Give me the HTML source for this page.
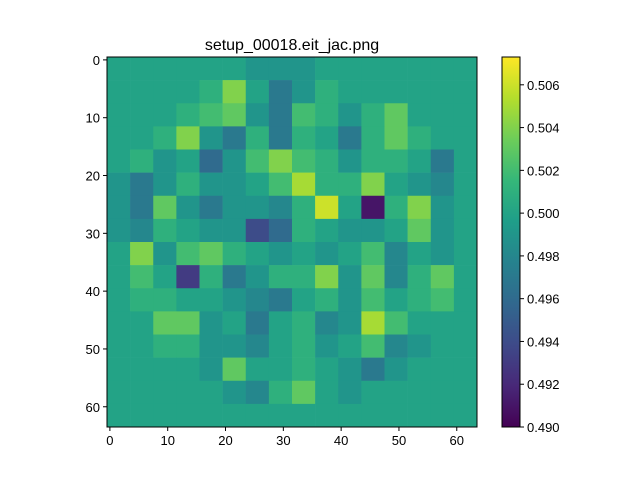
<!DOCTYPE html>
<html><head><meta charset="utf-8"><style>
body{margin:0;background:#fff;}
svg text{font-family:"Liberation Sans","DejaVu Sans",sans-serif;}
</style></head><body>
<svg id="c" width="640" height="480" xmlns="http://www.w3.org/2000/svg">
<text x="292" y="50" font-size="16" text-anchor="middle">setup_00018.eit_jac.png</text>
<g id="cells"></g>
<g id="axes"></g>
<g id="cbar"></g>
</svg>
<script>
// 16x16 block grid (each block = 4x4 image pixels), deviation from 0.5 in thousandths
const gridRows = [
[0,0,0,0,0,0,-1,-1,-1,0,0,0,0,0,0,0],
[0,0,0,0,1,4,0,-3,-1,1,0,0,0,0,0,0],
[0,0,0,1,2,3,-1,-3,2,1,-1,1,3,0,0,0],
[0,0,1,4,-1,-3,1,-3,1,0,-3,1,3,1,0,0],
[0,1,-1,0,-4,-1,2,4,2,1,-1,1,1,0,-3,0],
[-1,-3,-1,1,-1,-1,0,2,5,1,1,4,0,-1,-2,0],
[-1,-3,3,-1,-3,-1,-1,-2,1,6,0,-9,1,4,-1,0],
[-1,-2,1,0,-1,-1,-6,-4,1,0,-1,-1,0,3,-1,0],
[0,4,-1,2,3,1,0,-1,0,-1,0,2,-2,0,-1,0],
[0,2,0,-7,1,-3,-1,1,1,4,-1,3,-2,1,3,0],
[0,1,1,0,0,-1,-2,-3,0,1,-1,2,0,1,2,0],
[0,0,3,3,-1,0,-3,0,1,-2,-1,5,2,0,0,0],
[0,0,1,1,-1,-1,-2,0,1,-1,0,2,-2,-1,0,0],
[0,0,0,0,-1,3,0,0,1,0,-1,-3,-1,0,0,0],
[0,0,0,0,0,-1,-2,1,3,0,-1,0,0,0,0,0],
[0,0,0,0,0,0,0,0,0,0,0,0,0,0,0,0]
];
const xTicks = [0,10,20,30,40,50,60];
const yTicks = [0,10,20,30,40,50,60];
const cbTicks = [0.490,0.492,0.494,0.496,0.498,0.500,0.502,0.504,0.506];
const vmin = 0.490, vmax = 0.5073;

const NS="http://www.w3.org/2000/svg";
const X0=107,Y0=57,W=370,H=370,N=64;
const sx=d=>X0+(d+0.5)*W/N, sy=d=>Y0+(d+0.5)*H/N;
const vir=[[68,1,84],[72,40,120],[62,74,137],[49,104,142],[38,130,142],[31,158,137],[53,183,121],[109,205,89],[180,222,44],[253,231,37]];
function cmap(v){let t=Math.max(0,Math.min(1,(v-vmin)/(vmax-vmin)))*(vir.length-1);let i=Math.min(vir.length-2,Math.floor(t)),f=t-i;const a=vir[i],b=vir[i+1];return `rgb(${a.map((x,k)=>Math.round(x+(b[k]-x)*f)).join(',')})`;}
function mk(tag,attrs,parent){const e=document.createElementNS(NS,tag);for(const k in attrs)e.setAttribute(k,attrs[k]);parent.appendChild(e);return e;}
const cells=document.getElementById('cells');
const bs=W/gridRows.length;
gridRows.forEach((row,r)=>row.forEach((d,c)=>{
 const e=mk('rect',{x:X0+c*bs,y:Y0+r*bs,width:bs+0.3,height:bs+0.3,fill:cmap(0.5+d/1000)},cells);
 
 
}));
const ax=document.getElementById('axes');
mk('rect',{x:X0,y:Y0,width:W,height:H,fill:'none',stroke:'#000','stroke-width':1},ax);
xTicks.forEach(t=>{const x=sx(t);mk('line',{x1:x,x2:x,y1:Y0+H,y2:Y0+H+4,stroke:'#000'},ax);
 const tx=mk('text',{x:x,y:Y0+H+18,'font-size':13,'text-anchor':'middle'},ax);tx.textContent=t;
 
 });
yTicks.forEach(t=>{const y=sy(t);mk('line',{x1:X0-4,x2:X0,y1:y,y2:y,stroke:'#000'},ax);
 const tx=mk('text',{x:X0-7,y:y+5,'font-size':13,'text-anchor':'end'},ax);tx.textContent=t;
 
 });
const cb=document.getElementById('cbar');
const CX=502,CW=18,CY0=57,CH=370;
const defs=mk('defs',{},cb);const lg=mk('linearGradient',{id:'g',x1:0,y1:1,x2:0,y2:0},defs);
vir.forEach((c,i)=>mk('stop',{offset:i/(vir.length-1),'stop-color':`rgb(${c.join(',')})`},lg));
mk('rect',{x:CX,y:CY0,width:CW,height:CH,fill:'url(#g)',stroke:'#000','stroke-width':1},cb);
cbTicks.forEach(t=>{const y=CY0+CH-(t-vmin)/(vmax-vmin)*CH;mk('line',{x1:CX+CW,x2:CX+CW+4,y1:y,y2:y,stroke:'#000'},cb);
 const tx=mk('text',{x:CX+CW+7,y:y+5,'font-size':13},cb);tx.textContent=t.toFixed(3);
 
 });
</script>
</body></html>
